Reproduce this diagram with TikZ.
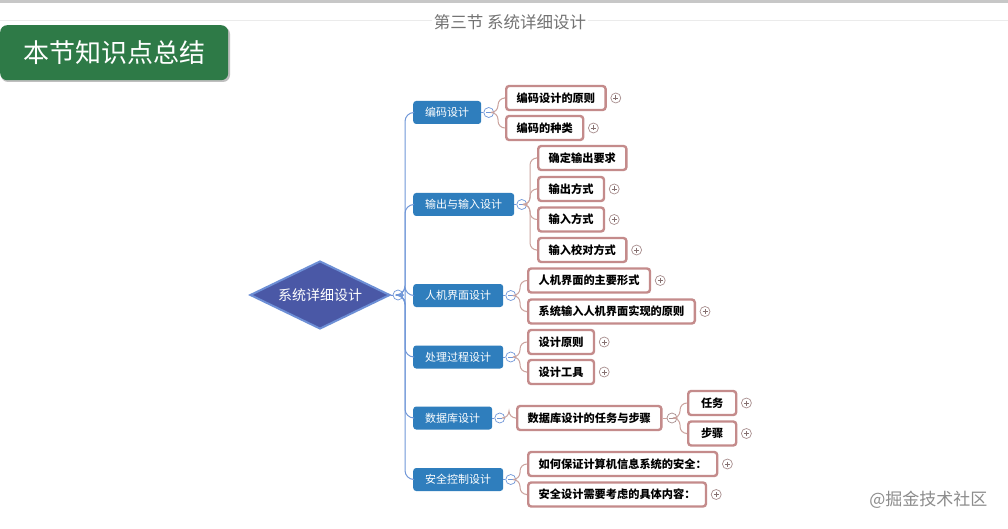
\documentclass[tikz,border=0pt]{standalone}
\usepackage{fontspec}
\setmainfont{Noto Sans CJK SC}
\usetikzlibrary{shapes.geometric,calc}
\definecolor{gbox}{HTML}{2E7A47}
\definecolor{l1blue}{HTML}{2F7EBD}
\definecolor{l2rose}{HTML}{C48B8B}
\definecolor{rootfill}{HTML}{4A58A6}
\definecolor{rootdraw}{HTML}{6D8FD6}
\definecolor{trunkc}{HTML}{7097D8}
\definecolor{branchc}{HTML}{CBA39E}
\definecolor{plusc}{HTML}{A88E8E}
\begin{document}
\begin{tikzpicture}[x=1pt,y=-1pt,
  l1/.style={rectangle,rounded corners=3pt,fill=l1blue,text=white,
    font=\fontsize{11}{13}\selectfont,minimum height=23pt,inner xsep=12pt,inner ysep=0pt,anchor=west},
  l2/.style={rectangle,rounded corners=3pt,draw=l2rose,line width=2.4pt,fill=white,
    font=\bfseries\fontsize{11.2}{13}\selectfont,minimum height=24pt,inner xsep=10.5pt,inner ysep=0pt,anchor=west},
  sign/.style={circle,fill=white,minimum size=10pt,inner sep=0pt,line width=0.7pt},
  minusc/.style={sign,draw=#1,path picture={\draw[#1,line width=0.8pt]
      ([xshift=2.5pt]path picture bounding box.west) -- ([xshift=-2.5pt]path picture bounding box.east);}},
  plusn/.style={sign,draw=plusc,path picture={\draw[plusc!80!black,line width=0.8pt]
      ([xshift=2.5pt]path picture bounding box.west) -- ([xshift=-2.5pt]path picture bounding box.east)
      ([yshift=-2.5pt]path picture bounding box.north) -- ([yshift=2.5pt]path picture bounding box.south);}},
  trunk/.style={draw=trunkc,line width=1pt,rounded corners=9pt},
  branch/.style={draw=branchc,line width=1pt,rounded corners=7pt}]
\useasboundingbox (0,0) rectangle (1008,529);
\fill[white] (0,0) rectangle (1008,529);
% top bar and title line
\fill[black!22] (0,0) rectangle (1008,3);
\draw[black!8,line width=0.8pt] (0,20) -- (1008,20);
\node[fill=white,text=black!55,font=\fontsize{16.5}{18}\selectfont,inner xsep=2pt] (title) at (510,22) {第三节 系统详细设计};
% green box
\fill[black!25,rounded corners=7pt] (1,27) rectangle (230,82);
\node[fill=gbox,rounded corners=7pt,text=white,font=\fontsize{26}{28}\selectfont,
  minimum width=228pt,minimum height=55pt,inner sep=0pt,anchor=north west] (gb) at (0,25) {本节知识点总结};
% root
\node[diamond,aspect=2.06,fill=rootfill,draw=rootdraw,line width=2pt,minimum width=140pt,minimum height=68pt,
  inner sep=0pt,text=white,font=\fontsize{14}{16}\selectfont] (root) at (320,295) {系统详细设计};
\node[minusc=trunkc] (rm) at (398,295) {};
\draw[rootdraw,line width=1pt] (root.east) -- (rm.west);
% level 1
\node[l1] (n1) at (413,112.5) {编码设计};
\node[l1] (n2) at (413,204.5) {输出与输入设计};
\node[l1] (n3) at (413,295.5) {人机界面设计};
\node[l1] (n4) at (413,357) {处理过程设计};
\node[l1] (n5) at (413,418) {数据库设计};
\node[l1] (n6) at (413,479.5) {安全控制设计};
\foreach \n in {n1,n2,n3,n4,n5,n6}
  \draw[trunk] (rm.east) -| ($(\n.west)+(-8,0)$) -- (\n.west);
% level 1 minus signs
\foreach \n in {n1,n2,n3,n4,n5,n6}{
  \node[minusc=trunkc,anchor=west] (m\n) at ([xshift=2pt]\n.east) {};
  \draw[trunkc,line width=0.8pt] (\n.east) -- (m\n.west);
}
% level 2
\node[l2] (c11) at (505,98) {编码设计的原则};
\node[l2] (c12) at (505,128) {编码的种类};
\node[l2] (c21) at (537,158) {确定输出要求};
\node[l2] (c22) at (537,189) {输出方式};
\node[l2] (c23) at (537,219.5) {输入方式};
\node[l2] (c24) at (537,250) {输入校对方式};
\node[l2] (c31) at (527,280.5) {人机界面的主要形式};
\node[l2] (c32) at (527,311.5) {系统输入人机界面实现的原则};
\node[l2] (c41) at (527,342) {设计原则};
\node[l2] (c42) at (527,372) {设计工具};
\node[l2] (c51) at (516,418) {数据库设计的任务与步骤};
\node[l2,minimum width=48pt] (c511) at (687,403) {任务};
\node[l2,minimum width=48pt] (c512) at (687,433.5) {步骤};
\node[l2] (c61) at (527,464) {如何保证计算机信息系统的安全：};
\node[l2] (c62) at (527,494.5) {安全设计需要考虑的具体内容：};
% branches
\foreach \m/\c in {mn1/c11,mn1/c12,mn2/c21,mn2/c22,mn2/c23,mn2/c24,mn3/c31,mn3/c32,
  mn4/c41,mn4/c42,mn5/c51,mn6/c61,mn6/c62}
  \draw[branch] (\m.east) -| ($(\c.west)+(-7,0)$) -- ([xshift=-1pt]\c.west);
\node[minusc=plusc,anchor=west] (mc51) at ([xshift=4pt]c51.east) {};
\draw[branchc,line width=0.8pt] (c51.east) -- (mc51.west);
\foreach \c in {c511,c512}
  \draw[branch] (mc51.east) -| ($(\c.west)+(-7,0)$) -- ([xshift=-1pt]\c.west);
% plus signs
\foreach \c in {c11,c12,c22,c23,c24,c31,c32,c41,c42,c511,c512,c61,c62}
  \node[plusn] (p\c) at ([xshift=9pt]\c.east) {};
% watermark
\node[text=black!45,font=\fontsize{17}{19}\selectfont,anchor=east] (wm) at (991,500) {@掘金技术社区};
\end{tikzpicture}
\end{document}
